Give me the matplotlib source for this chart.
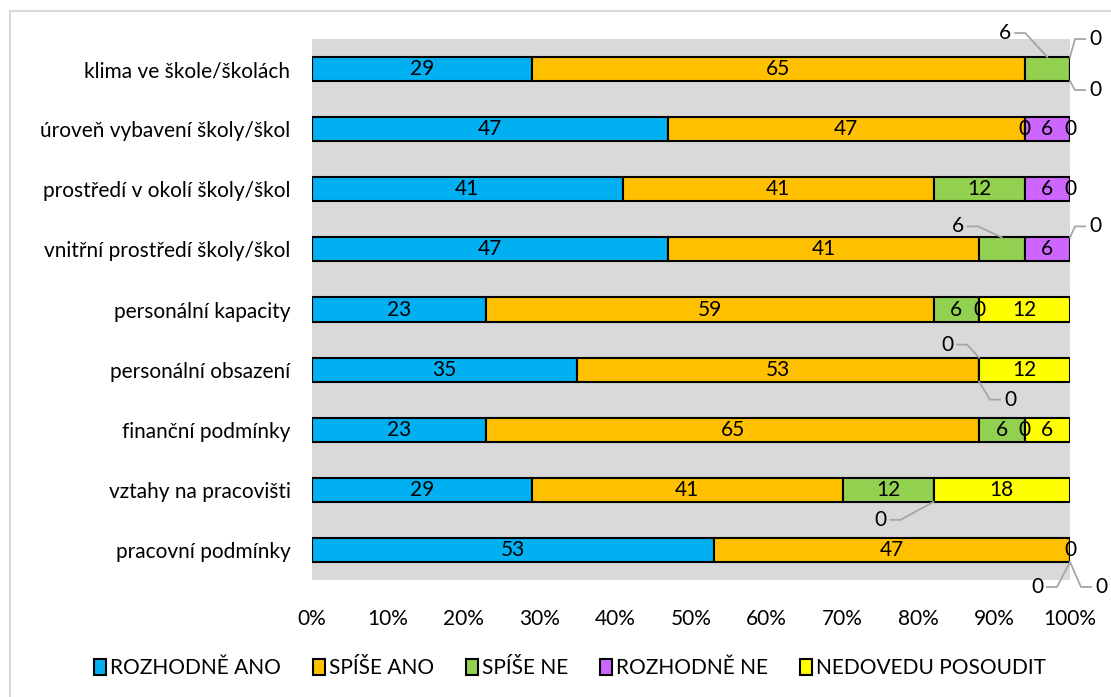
import numpy as np
import matplotlib.pyplot as plt
from matplotlib.patches import Rectangle
from matplotlib.lines import Line2D

plt.rcParams['font.family'] = ['Lato', 'DejaVu Sans']

categories = ['klima ve škole/školách', 'úroveň vybavení školy/škol',
              'prostředí v okolí školy/škol', 'vnitřní prostředí školy/škol',
              'personální kapacity', 'personální obsazení', 'finanční podmínky',
              'vztahy na pracovišti', 'pracovní podmínky']
series = ['ROZHODNĚ ANO', 'SPÍŠE ANO', 'SPÍŠE NE', 'ROZHODNĚ NE', 'NEDOVEDU POSOUDIT']
rozhodne_ano = [29, 47, 41, 47, 23, 35, 23, 29, 53]
spise_ano = [65, 47, 41, 41, 59, 53, 65, 41, 47]
spise_ne = [6, 0, 12, 6, 6, 0, 6, 12, 0]
rozhodne_ne = [0, 6, 6, 6, 0, 0, 0, 0, 0]
nedovedu = [0, 0, 0, 0, 12, 12, 6, 18, 0]
colors = ['#00B0F0', '#FFC000', '#92D050', '#CC66FF', '#FFFF00']

# labels drawn outside the bar with a leader line: (row, series, edge, dx px, dy px)
callouts = [(0, 2, 'top', -42, 24), (0, 3, 'top', 25, 18), (0, 4, 'bottom', 25, -9),
            (3, 2, 'top', -44, 11), (3, 4, 'top', 25, 11),
            (5, 2, 'top', -32, 13), (5, 3, 'bottom', 31, -18),
            (7, 3, 'bottom', -53, -18),
            (8, 3, 'bottom', -33, -25), (8, 4, 'bottom', 31, -25)]
hidden = {(r, s) for r, s, *_ in callouts}

data = np.array([rozhodne_ano, spise_ano, spise_ne, rozhodne_ne, nedovedu])
FS = 15

fig = plt.figure(figsize=(11.11, 6.97), dpi=100)
ax = fig.add_axes([312 / 1111, 1 - 580 / 697, 758 / 1111, 541 / 697])
ax.set_facecolor('#D9D9D9')

# outer chart frame
fig.patches.append(Rectangle((10 / 1111, -0.05), 1.1, 1 - 11 / 697 + 0.05,
                             transform=fig.transFigure, fill=False,
                             edgecolor='#D9D9D9', linewidth=1.5))

y = np.arange(len(categories))
h = 0.4
ax.set_xlim(0, 100)
ax.set_ylim(len(categories) - 0.5, -0.5)

left = np.zeros(len(categories))
for j, name in enumerate(series):
    ax.barh(y, data[j], left=left, height=h, color=colors[j],
            edgecolor='black', linewidth=1.5, label=name)
    for i in range(len(categories)):
        if (i, j) in hidden:
            continue
        ax.text(left[i] + data[j][i] / 2, y[i], str(data[j][i]),
                ha='center', va='center', fontsize=FS)
    left += data[j]

# callouts with leader lines (elbow near the text, slanted part to the bar)
to_fig = fig.transFigure.inverted()
for r, s, edge, dx, dy in callouts:
    cx = data[:s, r].sum() + data[s, r] / 2
    ey = y[r] - h / 2 if edge == 'top' else y[r] + h / 2
    px, py = ax.transData.transform((cx, ey))
    sgn = -1 if dx > 0 else 1
    pts = [(px, py), (px + dx + sgn * 20, py + dy), (px + dx + sgn * 10, py + dy)]
    fpts = to_fig.transform(pts)
    fig.add_artist(Line2D(fpts[:, 0], fpts[:, 1], transform=fig.transFigure,
                          color='#A6A6A6', lw=1.3))
    tx, ty = to_fig.transform((px + dx, py + dy))
    fig.text(tx, ty, str(data[s, r]), ha='center', va='center', fontsize=FS)

ax.set_yticks(y)
ax.set_yticklabels(categories, fontsize=FS)
ax.set_xticks(np.arange(0, 101, 10))
ax.set_xticklabels(['%d%%' % v for v in range(0, 101, 10)], fontsize=FS)
ax.tick_params(axis='both', length=0)
ax.tick_params(axis='y', pad=15.5)
ax.tick_params(axis='x', pad=21)
for sp in ax.spines.values():
    sp.set_visible(False)

fig.legend(loc='center', bbox_to_anchor=(0.513, 1 - 668 / 697), ncol=5, frameon=False,
           fontsize=FS, handlelength=0.6, handleheight=0.8, handletextpad=0.2,
           columnspacing=1.5)

fig.savefig('out.png', dpi=100)
